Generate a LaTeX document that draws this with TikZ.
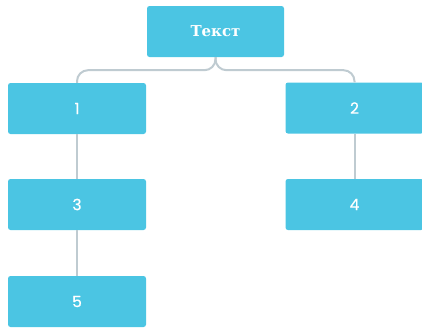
\documentclass[tikz,border=0pt]{standalone}
\usepackage{fontspec}
\setmainfont{DejaVu Serif}
\newfontfamily\numfont[FakeBold=0.6]{Poppins}
\definecolor{boxblue}{HTML}{4BC5E3}
\definecolor{linkgray}{HTML}{BFCBD1}
\begin{document}
\begin{tikzpicture}[x=1pt,y=1pt,
  box/.style={fill=boxblue, rounded corners=2.5pt, minimum width=138pt, minimum height=51pt,
    inner sep=0pt, text=white, font=\numfont\fontsize{15.5}{17}\selectfont},
  link/.style={draw=linkgray, line width=2pt}]
\useasboundingbox (0,0) rectangle (422,-327);
\clip (0,0) rectangle (422,-327);
% nodes
\node[box, minimum width=137pt, font=\bfseries\fontsize{15}{17}\selectfont] (top) at (215.5,-31.5) {Текст};
\node[box] (n1) at (77,-108.5) {1};
\node[box] (n2) at (354.5,-108) {2};
\node[box] (n3) at (77,-204.5) {3};
\node[box] (n4) at (354.5,-204.5) {4};
\node[box] (n5) at (77,-301.5) {5};
% connectors
\begin{scope}[on background layer/.try]
\draw[link, rounded corners=11pt] (top.south) -- ++(0,-13) -| (n1.north);
\draw[link, rounded corners=11pt] (top.south) -- ++(0,-13) -| (n2.north);
\draw[link] (n1.south) -- (n3.north);
\draw[link] (n3.south) -- (n5.north);
\draw[link] (n2.south) -- (n4.north);
\end{scope}
\end{tikzpicture}
\end{document}
